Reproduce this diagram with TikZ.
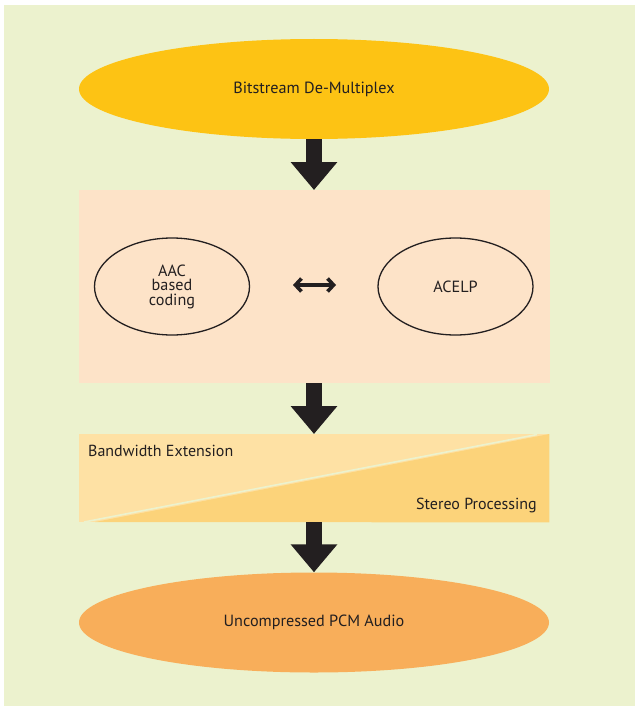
\documentclass[tikz,border=0pt]{standalone}
\usepackage{fontspec}
\setmainfont{PT Sans}
\usetikzlibrary{shapes.geometric,arrows.meta}
\definecolor{bggreen}{HTML}{ECF2CE}
\definecolor{peach}{HTML}{FDE3C8}
\definecolor{topell}{HTML}{FDC314}
\definecolor{botell}{HTML}{F8AE5A}
\definecolor{bwlight}{HTML}{FEE1A4}
\definecolor{stdark}{HTML}{FCD37A}
\definecolor{arrowblk}{HTML}{231F20}
\definecolor{txt}{HTML}{231F20}
\tikzset{
  bigell/.style={ellipse, inner sep=0pt, minimum width=470pt, minimum height=100pt, text=txt, font=\fontsize{16.2}{18}\selectfont},
  smallell/.style={ellipse, draw=arrowblk, line width=1.3pt, inner sep=0pt, minimum width=155pt, minimum height=97pt, text=txt, font=\fontsize{16.2}{14.5}\selectfont, align=center},
  flowarrow/.style={draw=arrowblk, line width=16pt, -{Triangle[width=45pt,length=28pt]}, arrowblk},
  label/.style={text=txt, font=\fontsize{16}{18}\selectfont, inner sep=0pt}
}
\begin{document}
\begin{tikzpicture}[x=1pt,y=-1pt]
\useasboundingbox (0,0) rectangle (635,709);
\fill[white] (0,0) rectangle (635,709);
\fill[bggreen] (4,5) rectangle (635,706);

\node[bigell, fill=topell] (demux) at (314,89) {Bitstream De-Multiplex};

\node[rectangle, fill=peach, inner sep=0pt, minimum width=471pt, minimum height=193pt, anchor=north west] (core) at (79,190) {};
\node[smallell] (aac) at (172,286.5) {AAC\\based\\coding};
\node[smallell] (acelp) at (455.5,286.5) {ACELP};
\coordinate (dl) at (293,285);
\coordinate (dr) at (336,285);
\draw[arrowblk, line width=3.6pt, {Straight Barb[length=6pt,width=13pt]}-{Straight Barb[length=6pt,width=13pt]}] (dl) -- (dr);

\node[rectangle, fill=bwlight, inner sep=0pt, minimum width=470pt, minimum height=88pt, anchor=north west] (post) at (79,434) {};
\fill[stdark] (95,522) -- (post.north east) -- (post.south east) -- cycle;
\draw[bggreen, line width=1.6pt] (84,522) -- (537,434.5);
\node[label, anchor=west] (bwe) at (88,451) {Bandwidth Extension};
\node[label, anchor=east] (stereo) at (537,505.5) {Stereo Processing};

\node[bigell, fill=botell] (pcm) at (314,622.5) {Uncompressed PCM Audio};

\draw[flowarrow] (demux.south) -- (core.north -| demux.south);
\draw[flowarrow] (core.south -| demux.south) -- (post.north -| demux.south);
\draw[flowarrow] (post.south -| demux.south) -- (pcm.north);
\end{tikzpicture}
\end{document}
